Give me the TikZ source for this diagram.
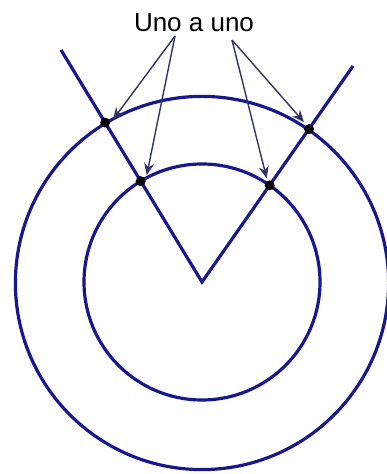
\documentclass[tikz,border=0pt]{standalone}
\usepackage{fontspec}
\setmainfont{Liberation Sans}
\usetikzlibrary{calc,arrows.meta}
\definecolor{navy}{RGB}{24,24,140}
\definecolor{arrowgray}{RGB}{50,50,100}
\tikzset{
  ring/.style={draw=navy, line width=1.6pt},
  ray/.style={draw=navy, line width=1.6pt},
  dot/.style={circle, fill=black, inner sep=0pt, minimum size=5pt},
  pointer/.style={draw=arrowgray, line width=0.7pt, -{Stealth[length=6pt,width=5pt]}},
  label/.style={font=\fontsize{13}{15}\selectfont, inner sep=1pt}
}
\begin{document}
\begin{tikzpicture}[x=0.5pt,y=0.5pt]
\useasboundingbox (0,0) rectangle (386,474);
\coordinate (apex) at (202,192);
\coordinate (lend) at (61,424);
\coordinate (rend) at (353,408);
\draw[ring] (202,191) circle[radius=93.3pt];
\draw[ring] (apex) circle[radius=59pt];
\draw[ray] (lend) -- (apex) -- (rend);
\node[dot] (lo) at ($(apex)+(121.3:93.3pt)$) {};
\node[dot] (li) at ($(apex)+(121.3:59pt)$) {};
\node[dot] (ro) at ($(apex)+(55.0:93.3pt)$) {};
\node[dot] (ri) at ($(apex)+(55.0:59pt)$) {};
\node[label] (txt) at (194,451) {Uno a uno};
\coordinate (sl) at (175,438);
\coordinate (sr) at (232,434);
\draw[pointer] (sl) -- ($(lo)+(8,3)$);
\draw[pointer] (sl) -- ($(li)+(6,6)$);
\draw[pointer] (sr) -- ($(ri)+(-3,7)$);
\draw[pointer] (sr) -- ($(ro)+(-5,7)$);
\end{tikzpicture}
\end{document}
